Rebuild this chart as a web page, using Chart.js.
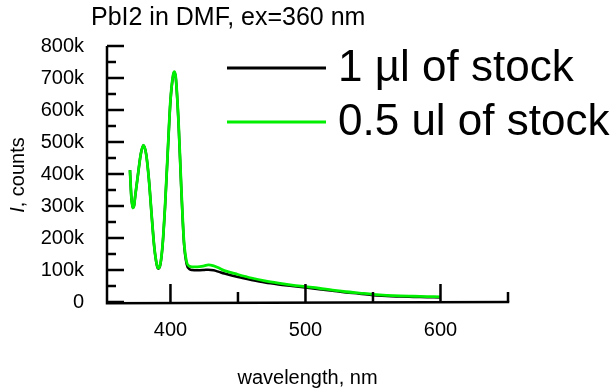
<!DOCTYPE html>
<html>
<head>
<meta charset="utf-8">
<script src="https://cdn.jsdelivr.net/npm/chart.js@4/dist/chart.umd.min.js"></script>
<style>
  html, body { margin: 0; padding: 0; background: #fff; }
  #wrap { width: 613px; height: 390px; position: relative; }
</style>
</head>
<body>
<div id="wrap"><canvas id="c" width="613" height="390"></canvas></div>
<script>
const chartTitle = 'PbI2 in DMF, ex=360 nm';
const xAxisTitle = 'wavelength, nm';
const yAxisTitleItalic = 'I';
const yAxisTitleRest = ', counts';

const wavelengths = [370,371,372,373,374,376,378,380,382,384,386,388,390,391,392,394,396,398,400,402,403,404,406,408,410,412,414,416,420,425,428,432,436,440,450,460,470,480,490,500,510,520,530,540,550,560,570,580,590,600];
const stock1ul  = [412,330,294,300,335,400,462,490,462,385,275,172,113,104,108,168,298,468,628,708,718,698,558,355,185,118,103,100,99,100,101,99,94,89,78,69,61,55,50,45,40,35,30,26,21,19,17,16,15,14];
const stock05ul = [412,330,294,300,335,400,462,490,462,385,275,172,115,106,110,170,300,470,630,710,720,700,560,360,190,125,112,110,110,113,116,113,106,98,86,75,66,59,53,48,43,37,32,28,24,21,19,18,17,16];
const seriesLabels = ['1 µl of stock', '0.5 ul of stock'];
const seriesColors = ['#000000', '#00ee00'];

const xMajorTicks = [400, 500, 600];
const xMinorTicks = [450, 550, 650];
const yMajorTicks = [0,100000,200000,300000,400000,500000,600000,700000,800000];
const yMinorTicks = [50000,150000,250000,350000,450000,550000,650000,750000];
const yTickLabels = ['0','100k','200k','300k','400k','500k','600k','700k','800k'];

const FONT = '"Liberation Sans", Arial, sans-serif';

function pts(vals) { return wavelengths.map((w, i) => ({ x: w, y: vals[i] * 1000 })); }

const decor = {
  id: 'decor',
  afterDatasetsDraw(chart) {
    const ctx = chart.ctx;
    const xs = chart.scales.x, ys = chart.scales.y;
    const y0 = ys.getPixelForValue(0), yTop = ys.getPixelForValue(800000);
    const xL = xs.getPixelForValue(xs.min), xR = xs.getPixelForValue(650);
    ctx.save();
    ctx.strokeStyle = '#000';
    ctx.lineWidth = 2.5;
    ctx.lineCap = 'butt';
    ctx.beginPath();
    ctx.moveTo(xL, yTop); ctx.lineTo(xL, y0 + 1.25); ctx.lineTo(xR + 1.25, y0);
    ctx.stroke();
    ctx.beginPath();
    yMajorTicks.forEach(v => { const p = ys.getPixelForValue(v); ctx.moveTo(xL, p); ctx.lineTo(xL + 17, p); });
    yMinorTicks.forEach(v => { const p = ys.getPixelForValue(v); ctx.moveTo(xL, p); ctx.lineTo(xL + 9, p); });
    xMajorTicks.forEach(v => { const p = xs.getPixelForValue(v); ctx.moveTo(p, y0); ctx.lineTo(p, y0 - 18); });
    xMinorTicks.forEach(v => { const p = xs.getPixelForValue(v); ctx.moveTo(p, y0); ctx.lineTo(p, y0 - 10); });
    ctx.stroke();
    ctx.restore();
  },
  afterDraw(chart) {
    const ctx = chart.ctx;
    ctx.save();
    ctx.fillStyle = '#000';
    ctx.textBaseline = 'middle';
    ctx.textAlign = 'left';
    ctx.font = '25px ' + FONT;
    ctx.fillText(chartTitle, 91, 18);
    // legend
    const rows = [68, 122];
    chart.data.datasets.forEach((ds, i) => {
      ctx.strokeStyle = ds.borderColor;
      ctx.lineWidth = 3;
      ctx.beginPath();
      ctx.moveTo(227, rows[i]); ctx.lineTo(326, rows[i]);
      ctx.stroke();
      ctx.font = '44px ' + FONT;
      ctx.fillText(ds.label, 338, rows[i] + 1);
    });
    // y title
    ctx.translate(18, 175);
    ctx.rotate(-Math.PI / 2);
    ctx.font = 'italic 20px ' + FONT;
    const w1 = ctx.measureText(yAxisTitleItalic).width;
    ctx.font = '20px ' + FONT;
    const w2 = ctx.measureText(yAxisTitleRest).width;
    const start = -(w1 + w2) / 2;
    ctx.font = 'italic 20px ' + FONT;
    ctx.fillText(yAxisTitleItalic, start, 0);
    ctx.font = '20px ' + FONT;
    ctx.fillText(yAxisTitleRest, start + w1, 0);
    ctx.restore();
  }
};

new Chart(document.getElementById('c'), {
  type: 'line',
  data: {
    datasets: [
      { label: seriesLabels[0], data: pts(stock1ul), borderColor: seriesColors[0], borderWidth: 2.5, pointRadius: 0, order: 1, cubicInterpolationMode: 'monotone', fill: false },
      { label: seriesLabels[1], data: pts(stock05ul), borderColor: seriesColors[1], borderWidth: 2.8, pointRadius: 0, order: 0, cubicInterpolationMode: 'monotone', fill: false }
    ]
  },
  options: {
    responsive: false,
    animation: false,
    devicePixelRatio: 1,
    layout: { padding: { left: 0, top: 46, right: 105, bottom: 0 } },
    plugins: { legend: { display: false }, title: { display: false }, tooltip: { enabled: false } },
    scales: {
      x: {
        type: 'linear', min: 353, max: 650,
        border: { display: false },
        grid: { display: false, drawTicks: false },
        afterBuildTicks(s) { s.ticks = xMajorTicks.map(v => ({ value: v })); },
        afterFit(s) { s.height = 88; },
        ticks: { padding: 16, color: '#000', font: { family: FONT, size: 20 }, callback: v => String(v) },
        title: { display: true, text: xAxisTitle, color: '#000', font: { family: FONT, size: 20 }, padding: { top: 0, bottom: 0 } }
      },
      y: {
        type: 'linear', min: 0, max: 800000,
        border: { display: false },
        grid: { display: false, drawTicks: false },
        afterBuildTicks(s) { s.ticks = yMajorTicks.map(v => ({ value: v })); },
        afterFit(s) { s.width = 107; },
        ticks: { padding: 23, color: '#000', font: { family: FONT, size: 20 }, callback: (v) => yTickLabels[yMajorTicks.indexOf(v)] }
      }
    }
  },
  plugins: [decor]
});
</script>
</body>
</html>
